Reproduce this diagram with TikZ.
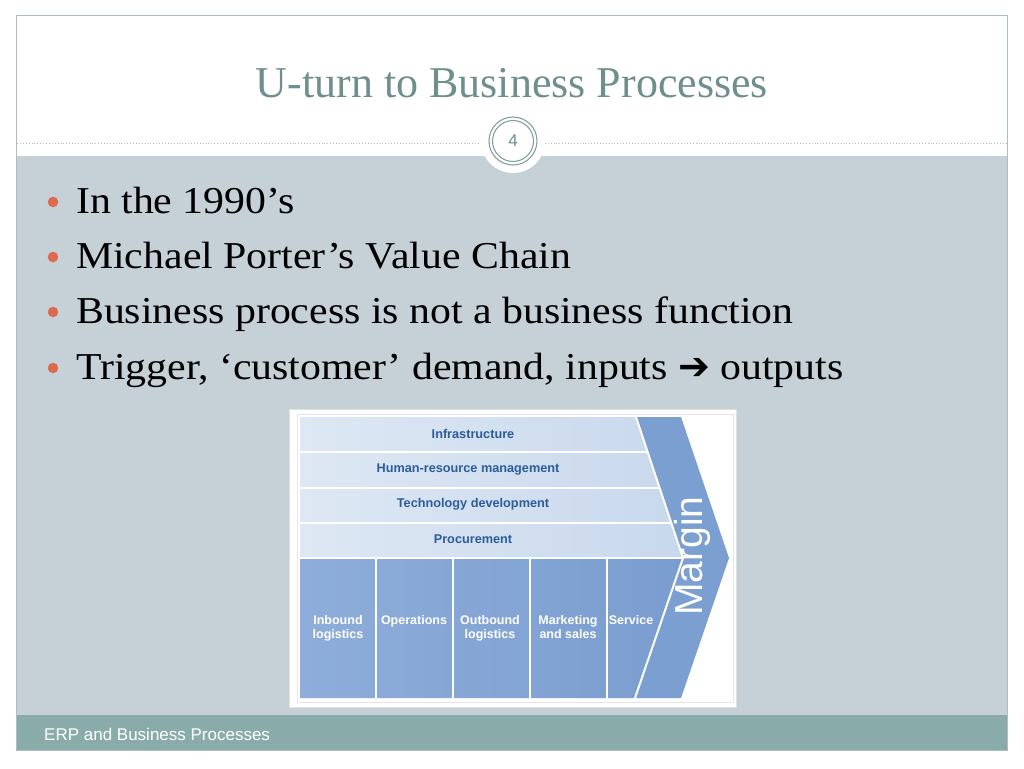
\documentclass[tikz,border=0pt]{standalone}
\usepackage{fontspec}
\setmainfont{Liberation Serif}
\setsansfont{Liberation Sans}
\newfontfamily\bodyfont[FakeStretch=1.1]{Liberation Serif}
\newfontfamily\arrowfont{DejaVu Sans}
\begin{document}
\begin{tikzpicture}[x=1pt,y=-1pt,
  bodytext/.style={anchor=base west,inner sep=0pt,font=\bodyfont\fontsize{38}{38}\selectfont,text=black},
  bulletdot/.style={circle,fill=bulletred,inner sep=0pt,minimum size=10.5pt},
  suplabel/.style={font=\sffamily\bfseries\fontsize{12.7}{13}\selectfont,text=supblue,inner sep=0pt},
  primlabel/.style={anchor=north,font=\sffamily\bfseries\fontsize{12.5}{14.5}\selectfont,text=white,align=center,inner sep=0pt},
  seam/.style={white,line width=2pt}]
\definecolor{bodygray}{HTML}{C5D0D7}
\definecolor{footteal}{HTML}{89ABAA}
\definecolor{titleteal}{HTML}{6E8F8E}
\definecolor{framegray}{HTML}{AEBEC0}
\definecolor{bulletred}{HTML}{DD6A4C}
\definecolor{rowlight}{HTML}{DEE8F4}
\definecolor{rowdark}{HTML}{C8D8EC}
\definecolor{primlight}{HTML}{8EADDA}
\definecolor{primdark}{HTML}{7A9DCF}
\definecolor{marginblue}{HTML}{7B9FD0}
\definecolor{supblue}{HTML}{2C5C9A}
\useasboundingbox (0,0) rectangle (1024,768);
\fill[white] (0,0) rectangle (1024,768);
% slide areas
\fill[bodygray] (16.5,156) rectangle (1007,715);
\fill[footteal] (16.5,715) rectangle (1007,750);
\draw[framegray,line width=1pt] (16.5,16) rectangle (1007,750);
\draw[framegray,dotted,line width=0.9pt] (17,143) -- (1006,143);
% title
\node[anchor=base,inner sep=0pt,text=titleteal,font=\fontsize{44}{44}\selectfont] (title) at (512,97) {U-turn to Business Processes};
% page number badge
\fill[white] (513,141) circle (32);
\draw[titleteal!85,line width=1.1pt] (513,141) circle (24);
\draw[titleteal!85,line width=1.1pt] (513,141) circle (20.5);
\node[text=titleteal,font=\sffamily\fontsize{17}{17}\selectfont,inner sep=0pt] (pnum) at (513,141) {4};
% bullets
\node[bulletdot] (b1) at (53,202) {};
\node[bodytext] (t1) at (76,213) {In the 1990’s};
\node[bulletdot] (b2) at (53,257) {};
\node[bodytext] (t2) at (76,268) {Michael Porter’s Value Chain};
\node[bulletdot] (b3) at (53,312) {};
\node[bodytext] (t3) at (76,323) {Business process is not a business function};
\node[bulletdot] (b4) at (53,368) {};
\node[bodytext] (t4) at (76,379) {Trigger, ‘customer’ demand, inputs {\arrowfont\fontsize{38}{38}\selectfont ➔} outputs};
% footer
\node[anchor=base west,inner sep=0pt,text=white,font=\sffamily\fontsize{17}{17}\selectfont] (foot) at (44,740) {ERP and Business Processes};
% value chain picture
\fill[white] (289,409) rectangle (737,708);
\draw[black!12,line width=0.6pt] (289.5,409.5) rectangle (736.5,707.5);
\draw[black!10,line width=0.6pt] (297,414) rectangle (733,702);
% support rows
\shade[left color=rowlight,right color=rowdark] (300,417) -- (636,417) -- (683,558) -- (300,558) -- cycle;
% primary activities
\shade[left color=primlight,right color=primdark] (300,558) -- (683,558) -- (635,698) -- (300,698) -- cycle;
% margin chevron
\fill[marginblue] (636,417) -- (681,417) -- (729,558) -- (681,698) -- (635,698) -- (683,558) -- cycle;
% seams
\draw[seam] (300,452) -- (647.7,452);
\draw[seam] (300,488) -- (659.7,488);
\draw[seam] (300,523) -- (671.3,523);
\draw[seam] (300,558) -- (683,558);
\draw[seam] (636,417) -- (683,558) -- (635,698);
\draw[seam,line width=1.5pt] (376,558) -- (376,698);
\draw[seam,line width=1.5pt] (453,558) -- (453,698);
\draw[seam,line width=1.5pt] (530,558) -- (530,698);
\draw[seam,line width=1.5pt] (607,558) -- (607,698);
% labels
\node[suplabel] (infra) at (473,434) {Infrastructure};
\node[suplabel] (hrm) at (468,469) {Human-resource management};
\node[suplabel] (tech) at (473,504) {Technology development};
\node[suplabel] (proc) at (473,539) {Procurement};
\node[primlabel] (inb) at (338,615) {Inbound\\logistics};
\node[primlabel] (ops) at (414,615) {Operations};
\node[primlabel] (outb) at (490,615) {Outbound\\logistics};
\node[primlabel] (mkt) at (568,615) {Marketing\\and sales};
\node[primlabel] (svc) at (631,615) {Service};
\node[rotate=90,text=white,font=\sffamily\fontsize{39}{39}\selectfont,inner sep=0pt] (margin) at (692,556) {Margin};
\end{tikzpicture}
\end{document}
